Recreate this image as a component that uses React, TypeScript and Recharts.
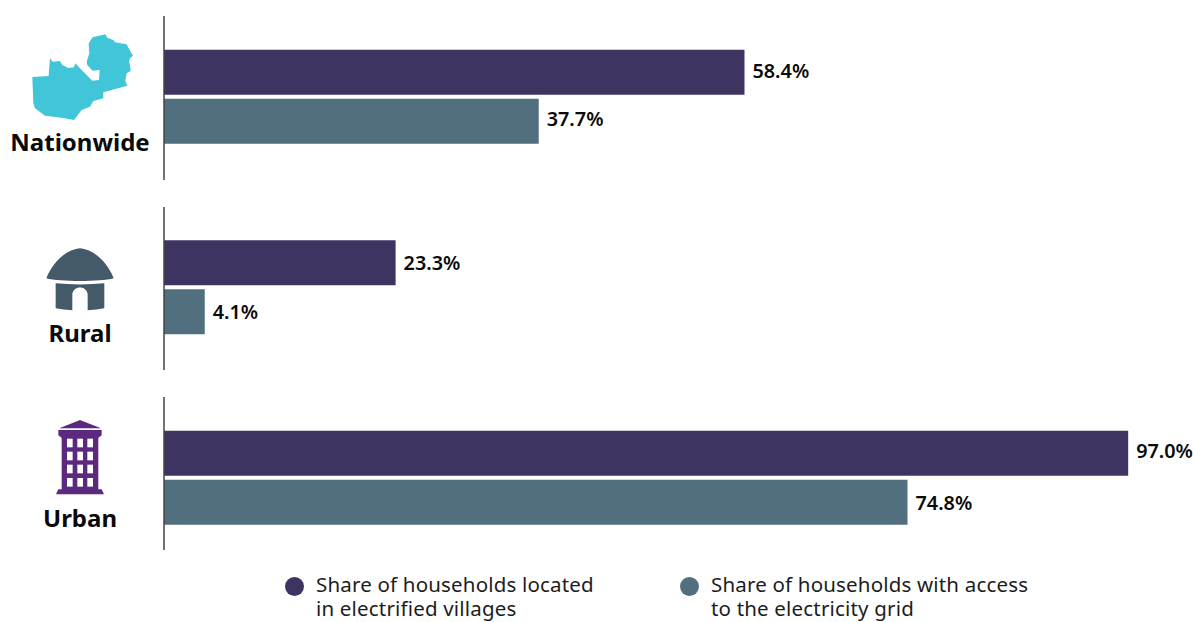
import React from "react";
import { BarChart, Bar, XAxis, YAxis, Legend, LabelList } from "recharts";

const categories = ["Nationwide", "Rural", "Urban"];
const villageShare = [58.4, 23.3, 97.0];
const gridShare = [37.7, 4.1, 74.8];
const seriesNames = [
  "Share of households located\nin electrified villages",
  "Share of households with access\nto the electricity grid",
];

// Small vertical nudges for the value labels
const villageLabelDy = [-2, 0, -3];
const gridLabelDy = [-3, 0, 0];

const PURPLE = "#3f3362";
const SLATE = "#516f7f";
const FONT = "'Noto Sans', sans-serif";

const data = categories.map((name, i) => ({
  name,
  villages: villageShare[i],
  grid: gridShare[i],
}));

// Outline is in 3x units, scaled down when drawn
const ZAMBIA =
  "M97,201 L146,198 L150,145 L158,155 L180,153 L187,165 L205,174 L222,172 L226,160 L240,175 L262,197 L277,212 L297,210 L299,180 L278,182 L262,165 L260,155 L268,130 L266,100 L278,82 L316,73 L322,83 L340,90 L345,97 L380,103 L385,113 L392,125 L399,137 L390,145 L387,155 L390,165 L392,183 L380,190 L376,213 L382,227 L310,247 L310,265 L280,273 L270,290 L245,300 L222,330 L185,323 L135,317 L105,295 L100,280 Z";

const MapIcon = () => (
  <g transform="translate(0,10) scale(0.3333)">
    <path d={ZAMBIA} fill="#41c5d9" />
  </g>
);

const HutIcon = () => (
  <g transform="translate(0,200) scale(0.3333)" fill="#455a68">
    <path d="M139,235 C160,180 205,147 240,145 C275,147 320,180 341,235 C300,246 180,246 139,235 Z" />
    <path d="M167,250 Q240,257 313,250 L313,325 Q290,330 263,331 L263,285 C263,255 217,255 217,285 L217,331 Q190,330 167,325 Z" />
  </g>
);

const windowCols = [201, 232, 262];
const windowRows = [146, 185, 224, 264];

const BuildingIcon = () => (
  <g transform="translate(0,390) scale(0.3333)">
    <path
      fill="#5b2a7e"
      d="M178,115 L240,90 L303,115 Z M175,120 L305,120 L305,136 L295,143 L295,298 L305,298 L312,313 L168,313 L175,298 L185,298 L185,143 L175,136 Z"
    />
    {windowRows.map((y) =>
      windowCols.map((x) => <rect key={`${x}-${y}`} x={x} y={y} width={17} height={26} fill="#fff" />)
    )}
  </g>
);

// Per-group furniture on the left of the axis
const groupTicks: Record<string, any> = {
  Nationwide: { top: 16, bottom: 180, baseline: 151, icon: <MapIcon /> },
  Rural: { top: 207, bottom: 370, baseline: 342, icon: <HutIcon /> },
  Urban: { top: 397, bottom: 550, baseline: 527, icon: <BuildingIcon /> },
};

const GroupTick = ({ payload }: any) => {
  const g = groupTicks[payload.value];
  return (
    <g>
      <line x1={164} x2={164} y1={g.top} y2={g.bottom} stroke="#444" strokeWidth={1.5} />
      {g.icon}
      <text x={80} y={g.baseline} textAnchor="middle" fontFamily={FONT} fontSize={24} fontWeight={700} fill="#0a0a0a">
        {payload.value}
      </text>
    </g>
  );
};

const LegendContent = ({ payload }: any) => (
  <div
    style={{
      position: "relative",
      height: 48,
      fontFamily: FONT,
      fontSize: 20.5,
      letterSpacing: 0.18,
      lineHeight: "24px",
      color: "#1c1c1c",
    }}
  >
    {payload.map((entry: any, i: number) => (
      <div key={entry.value} style={{ position: "absolute", left: i === 0 ? 285 : 680, top: -1, display: "flex" }}>
        <span
          style={{
            width: 19,
            height: 19,
            marginTop: 5,
            marginRight: 12,
            borderRadius: "50%",
            background: entry.color,
          }}
        />
        <span style={{ whiteSpace: "pre-line" }}>{entry.value}</span>
      </div>
    ))}
  </div>
);

const formatPct = (v: any) => `${Number(v).toFixed(1)}%`;

const valueLabel = (nudges: number[]) => ({ x, y, width, height, value, index }: any) => (
  <text
    x={x + width + 8}
    y={y + height / 2 + nudges[index]}
    dominantBaseline="central"
    fontFamily={FONT}
    fontSize={19.8}
    fontWeight={600}
    fill="#0a0a0a"
  >
    {formatPct(value)}
  </text>
);

export default function App() {
  return (
    <div style={{ position: "absolute", left: 0, top: 0, width: 1193, height: 622, background: "#fff", overflow: "hidden" }}>
      <BarChart
        width={1193}
        height={622}
        data={data}
        layout="vertical"
        barSize={45}
        barGap={4}
        barCategoryGap={0}
        margin={{ top: 1.75, right: 35, bottom: 0, left: 0 }}
      >
        <XAxis type="number" domain={[0, 100]} hide />
        <YAxis
          type="category"
          dataKey="name"
          width={164}
          axisLine={false}
          tickLine={false}
          tick={<GroupTick />}
          interval={0}
        />
        <Legend
          verticalAlign="bottom"
          content={<LegendContent />}
          wrapperStyle={{ height: 48.75, left: 0, width: 1193, bottom: 0 }}
        />
        <Bar dataKey="villages" name={seriesNames[0]} fill={PURPLE} isAnimationActive={false}>
          <LabelList dataKey="villages" content={valueLabel(villageLabelDy)} />
        </Bar>
        <Bar dataKey="grid" name={seriesNames[1]} fill={SLATE} isAnimationActive={false}>
          <LabelList dataKey="grid" content={valueLabel(gridLabelDy)} />
        </Bar>
      </BarChart>
    </div>
  );
}
